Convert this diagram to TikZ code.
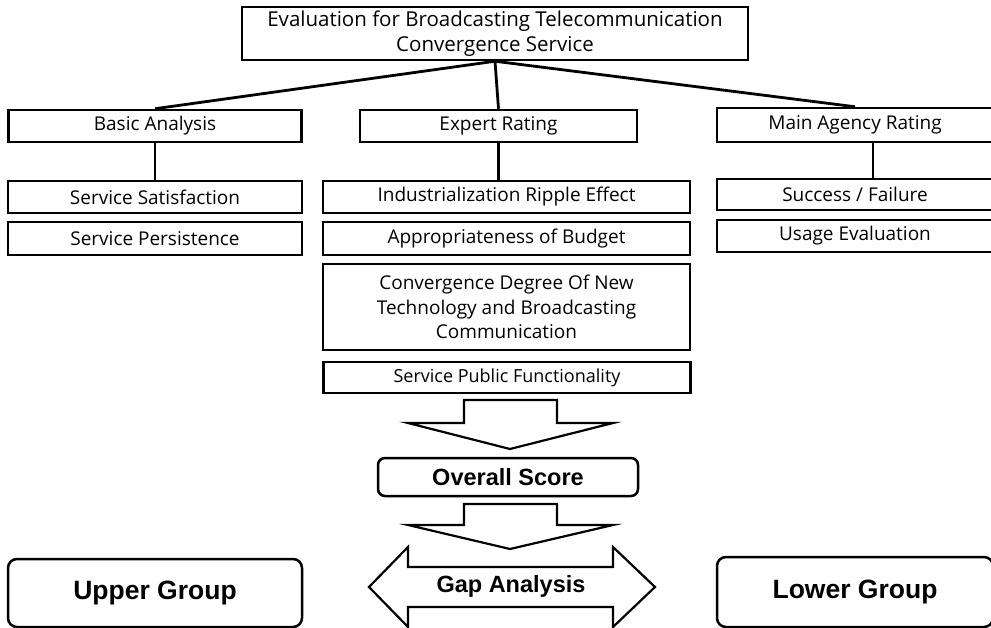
\documentclass[tikz,border=0pt]{standalone}
\usepackage{fontspec}
\setmainfont{Open Sans}
\newfontfamily\headfont{Liberation Sans}
\usetikzlibrary{positioning}

\tikzset{
    box/.style={draw, line width=2.5, inner sep=0pt, align=center,
        font=\fontsize{19}{24.5}\selectfont},
    groupbox/.style={draw, line width=2.5, rounded corners=9, inner sep=0pt,
        font=\headfont\bfseries\fontsize{26.5}{30}\selectfont},
    link/.style={line width=2.8},
    fatarrow/.style={draw, line width=2.2, fill=white, line join=miter}
}

\begin{document}
\begin{tikzpicture}[x=1pt,y=-1pt]
    \useasboundingbox (0,0) rectangle (991,628);

    % top of the tree
    \node[box, minimum width=506, minimum height=53, font=\fontsize{20.5}{25}\selectfont]
        (eval) at (495,33.5)
        {Evaluation for Broadcasting Telecommunication\\Convergence Service};

    % three rating branches
    \node[box, minimum width=293, minimum height=32] (basic) at (155,126) {Basic Analysis};
    \node[box, minimum width=277, minimum height=32] (expert) at (498.5,126) {Expert Rating};
    \node[box, minimum width=276, minimum height=34] (agency) at (855,125) {Main Agency Rating};

    \draw[link] (eval.south) -- (basic.north);
    \draw[link] (eval.south) -- (expert.north);
    \draw[link] (eval.south) -- (agency.north);

    % criteria
    \node[box, minimum width=294, minimum height=32] (satis) at (155,197) {Service Satisfaction};
    \node[box, minimum width=294, minimum height=33] (persist) at (155,238.5) {Service Persistence};

    \node[box, minimum width=367, minimum height=32] (ripple) at (506.5,197) {Industrialization Ripple Effect};
    \node[box, minimum width=367, minimum height=33] (budget) at (506.5,238.5) {Appropriateness of Budget};
    \node[box, minimum width=367, minimum height=86] (converge) at (506.5,307)
        {Convergence Degree Of New\\Technology and Broadcasting\\Communication};
    \node[box, minimum width=367, minimum height=31, font=\fontsize{18}{22}\selectfont]
        (public) at (507,377.5) {Service Public Functionality};

    \node[box, minimum width=276, minimum height=31] (success) at (855,194.5) {Success / Failure};
    \node[box, minimum width=276, minimum height=32] (usage) at (855,236) {Usage Evaluation};

    \draw[link] (basic.south) -- (satis.north);
    \draw[link] (expert.south) -- (expert.south |- ripple.north);
    \draw[link] ([xshift=18]agency.south) -- ([xshift=18]agency.south |- success.north);

    % scoring
    \draw[fatarrow] (464,400) -- (557,400) -- (557,423) -- (613,423) -- (510,449)
        -- (408,423) -- (464,423) -- cycle;
    \node[groupbox, rounded corners=7, minimum width=260, minimum height=38,
        font=\headfont\bfseries\fontsize{23.5}{26}\selectfont] (score) at (508,477) {Overall Score};
    \draw[fatarrow] (464,504) -- (557,504) -- (557,525) -- (613,525) -- (510,549)
        -- (408,525) -- (464,525) -- cycle;

    \draw[fatarrow] (369,587) -- (408,547) -- (408,567) -- (613,567) -- (613,547)
        -- (655,587) -- (613,627) -- (613,607) -- (408,607) -- (408,627) -- cycle;
    \node[font=\headfont\bfseries\fontsize{23.5}{26}\selectfont] (gap) at (511,586) {Gap Analysis};

    \node[groupbox, minimum width=294, minimum height=68] (upper) at (155,593) {Upper Group};
    \node[groupbox, minimum width=276, minimum height=70] (lower) at (855,592) {Lower Group};
\end{tikzpicture}
\end{document}
